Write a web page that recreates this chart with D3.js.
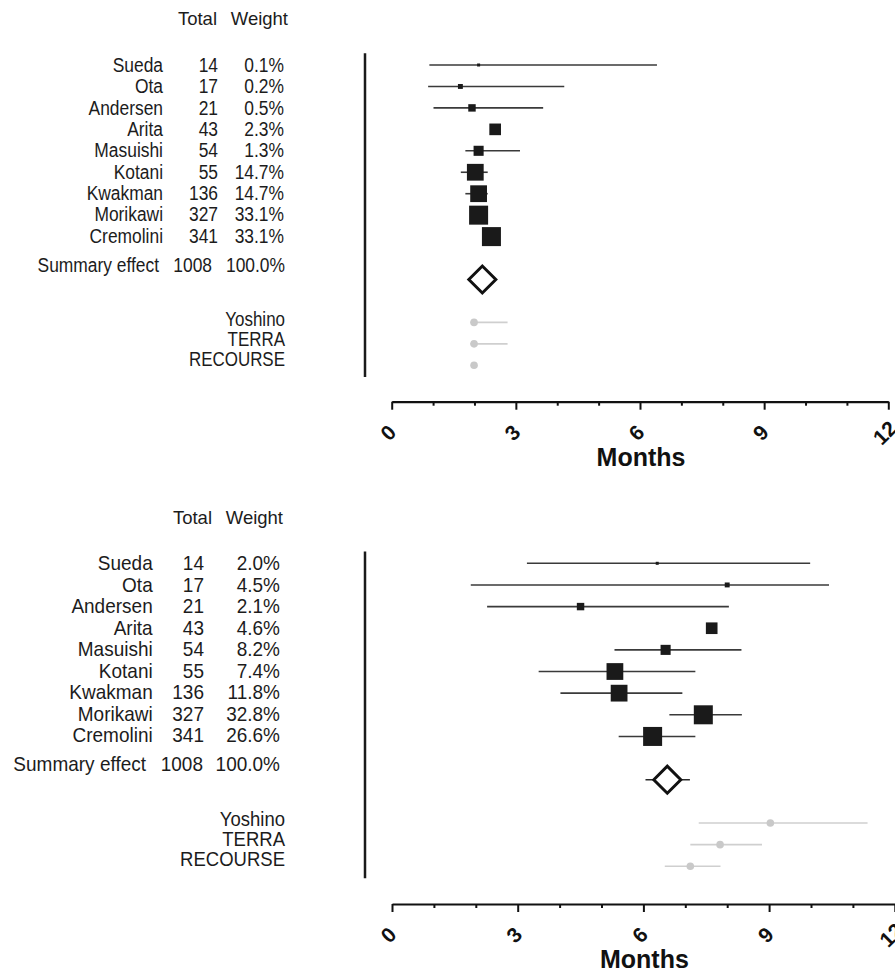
<!DOCTYPE html>
<html>
<head>
<meta charset="utf-8">
<script src="https://cdn.jsdelivr.net/npm/d3@7"></script>
<style>
  body { margin: 0; background: #fff; }
  svg { display: block; font-family: "Liberation Sans", Arial, sans-serif; }
</style>
</head>
<body>
<div id="chart"></div>
<script>
(function(){

  // study table
  var studies = ["Sueda", "Ota", "Andersen", "Arita", "Masuishi", "Kotani", "Kwakman", "Morikawi", "Cremolini"]
  var totals = [14, 17, 21, 43, 54, 55, 136, 327, 341]
  var summaryTotal = 1008
  var external = ["Yoshino", "TERRA", "RECOURSE"]
  var tickLabels = [0, 3, 6, 9, 12]

  // top panel (months)
  var weightsTop = [0.1, 0.2, 0.5, 2.3, 1.3, 14.7, 14.7, 33.1, 33.1]
  var estTop  = [2.10, 1.66, 1.94, 2.50, 2.10, 2.02, 2.10, 2.10, 2.41]
  var lowTop  = [0.91, 0.88, 1.01, 2.40, 1.78, 1.67, 1.78, 1.90, 2.20]
  var highTop = [6.41, 4.17, 3.66, 2.60, 3.10, 2.32, 2.32, 2.30, 2.60]
  var summaryTop = [2.19, 2.00, 2.40]   // est, low, high
  var extEstTop  = [1.99, 1.99, 1.99]
  var extLowTop  = [1.90, 1.90, 1.99]
  var extHighTop = [2.80, 2.80, 1.99]

  // bottom panel (months)
  var weightsBottom = [2.0, 4.5, 2.1, 4.6, 8.2, 7.4, 11.8, 32.8, 26.6]
  var estBottom  = [6.33, 8.00, 4.50, 7.63, 6.53, 5.32, 5.42, 7.43, 6.22]
  var lowBottom  = [3.22, 1.88, 2.27, 7.50, 5.31, 3.50, 4.02, 6.62, 5.41]
  var highBottom = [9.98, 10.43, 8.04, 7.75, 8.34, 7.24, 6.93, 8.35, 7.24]
  var summaryBottom = [6.57, 6.05, 7.11]
  var extEstBottom  = [9.03, 7.83, 7.12]
  var extLowBottom  = [7.32, 7.12, 6.51]
  var extHighBottom = [11.35, 8.83, 7.84]

  var width = 895, height = 977

  var svg = d3.select("#chart").append("svg")
      .attr("width", width)
      .attr("height", height)

  var f = d3.format(".1f")

  // marker size follows the study weights of the first analysis (same squares in both panels)
  var sizeScale = d3.scaleLog().domain([0.1, 33.1]).range([3, 19])

  function label(g, txt, x, y, sx, size, anchor){
    return g.append("text")
      .attr("transform", "translate(" + x + "," + y + ") scale(" + sx + ",1)")
      .attr("text-anchor", anchor || "end")
      .attr("dy", "0.35em")
      .style("font-size", size + "px")
      .style("fill", "#1c1c1c")
      .text(txt)
  }

  function drawPanel(cfg){
    var g = svg.append("g")

    var x = d3.scaleLinear().domain([0, 12]).range(cfg.xRange)
    var y = d3.scaleLinear().domain([0, 14]).range(cfg.yRange)
    var yText = d3.scaleLinear().domain([0, 8]).range(cfg.textRange)

    // header
    label(g, "Total", cfg.col.headTotal, y(0) - 46, 1, 18.5)
    label(g, "Weight", cfg.col.headWeight, y(0) - 46, 1, 18.5)

    // study rows text
    studies.forEach(function(s, i){
      label(g, s, cfg.col.name, yText(i), cfg.sx, 20)
      label(g, totals[i], cfg.col.total, yText(i), cfg.sx, 20)
      label(g, f(cfg.weights[i]) + "%", cfg.col.weight, yText(i), cfg.sx, 20)
    })
    label(g, "Summary effect", cfg.col.sumName, yText(9.37), cfg.sx, 20)
    label(g, summaryTotal, cfg.col.sumTotal, yText(9.37), cfg.sx, 20)
    label(g, "100.0%", cfg.col.sumWeight, yText(9.37), cfg.sx, 20)
    external.forEach(function(s, i){
      label(g, s, cfg.col.ext, yText(11.93 + i * 0.93), cfg.sx, 19.5)
    })

    // vertical line
    g.append("line")
      .attr("x1", cfg.vline).attr("x2", cfg.vline)
      .attr("y1", y(-0.55)).attr("y2", y(14.55))
      .style("stroke", "#1a1a1a")
      .style("stroke-width", 2.5)

    // CI lines
    g.selectAll(".ci")
      .data(studies)
      .enter().append("line")
      .attr("class", "ci")
      .attr("x1", function(d, i){ return x(cfg.low[i]) })
      .attr("x2", function(d, i){ return x(cfg.high[i]) })
      .attr("y1", function(d, i){ return y(i) })
      .attr("y2", function(d, i){ return y(i) })
      .style("stroke", "#3a3a3a")
      .style("stroke-width", 1.6)

    // squares
    g.selectAll(".sq")
      .data(studies)
      .enter().append("rect")
      .attr("class", "sq")
      .attr("x", function(d, i){ return x(cfg.est[i]) - sizeScale(weightsTop[i]) / 2 })
      .attr("y", function(d, i){ return y(i) - sizeScale(weightsTop[i]) / 2 })
      .attr("width", function(d, i){ return sizeScale(weightsTop[i]) })
      .attr("height", function(d, i){ return sizeScale(weightsTop[i]) })
      .style("fill", "#1a1a1a")

    // summary diamond
    var sy = y(10), sx = x(cfg.summary[0]), dh = 13.5
    g.append("line")
      .attr("x1", x(cfg.summary[1])).attr("x2", x(cfg.summary[2]))
      .attr("y1", sy).attr("y2", sy)
      .style("stroke", "#2a2a2a")
      .style("stroke-width", 1.6)
    g.append("path")
      .attr("d", "M" + (sx - dh) + "," + sy + "L" + sx + "," + (sy - dh) +
                 "L" + (sx + dh) + "," + sy + "L" + sx + "," + (sy + dh) + "Z")
      .style("fill", "#fff")
      .style("stroke", "#111")
      .style("stroke-width", 3)

    // external validation rows
    g.selectAll(".ext")
      .data(external)
      .enter().append("line")
      .attr("class", "ext")
      .attr("x1", function(d, i){ return x(cfg.extLow[i]) })
      .attr("x2", function(d, i){ return x(cfg.extHigh[i]) })
      .attr("y1", function(d, i){ return y(12 + i) })
      .attr("y2", function(d, i){ return y(12 + i) })
      .style("stroke", "#cfcfcf")
      .style("stroke-width", 1.6)
    g.selectAll(".extpt")
      .data(external)
      .enter().append("circle")
      .attr("class", "extpt")
      .attr("cx", function(d, i){ return x(cfg.extEst[i]) })
      .attr("cy", function(d, i){ return y(12 + i) })
      .attr("r", 3.8)
      .style("fill", "#c9c9c9")

    // x axis
    var axis = g.append("g")
      .attr("transform", "translate(0," + cfg.axisY + ")")
      .call(d3.axisBottom(x)
        .tickValues(d3.range(0, 13))
        .tickSizeOuter(0)
        .tickFormat(function(d){ return tickLabels.indexOf(d) > -1 ? d : "" }))

    axis.attr("font-size", 21).attr("font-family", null)
    axis.select(".domain")
      .style("stroke", "#111")
      .style("stroke-width", 2.2)
    axis.selectAll(".tick line")
      .attr("y2", function(d){ return d % 3 === 0 ? 8 : 4 })
      .style("stroke", "#111")
      .style("stroke-width", 2)
    axis.selectAll(".tick text")
      .attr("y", 0)
      .attr("dy", "0.35em")
      .attr("text-anchor", "middle")
      .attr("transform", "translate(-4,31) rotate(-45)")
      .style("font-size", "21px")
      .style("font-weight", "bold")
      .style("fill", "#111")

    g.append("text")
      .attr("x", (cfg.xRange[0] + cfg.xRange[1]) / 2 + 1)
      .attr("y", cfg.axisY + 64)
      .attr("text-anchor", "middle")
      .style("font-size", "25px")
      .style("font-weight", "bold")
      .style("fill", "#111")
      .text("Months")
  }

  drawPanel({
    xRange: [391.7, 888.3],
    yRange: [65, 365.3],
    textRange: [65, 235.5],
    axisY: 401.7,
    vline: 365,
    sx: 0.87,
    col: { name: 163, total: 218, weight: 284, sumName: 159, sumTotal: 212, sumWeight: 285,
           headTotal: 217, headWeight: 288, ext: 285 },
    weights: weightsTop,
    est: estTop, low: lowTop, high: highTop,
    summary: summaryTop,
    extEst: extEstTop, extLow: extLowTop, extHigh: extHighTop
  })

  drawPanel({
    xRange: [392, 894.8],
    yRange: [563.3, 866.3],
    textRange: [563.3, 735],
    axisY: 904,
    vline: 365,
    sx: 0.95,
    col: { name: 152.7, total: 204, weight: 280, sumName: 146, sumTotal: 203, sumWeight: 280,
           headTotal: 212, headWeight: 283, ext: 285 },
    weights: weightsBottom,
    est: estBottom, low: lowBottom, high: highBottom,
    summary: summaryBottom,
    extEst: extEstBottom, extLow: extLowBottom, extHigh: extHighBottom
  })

})()
</script>
</body>
</html>
